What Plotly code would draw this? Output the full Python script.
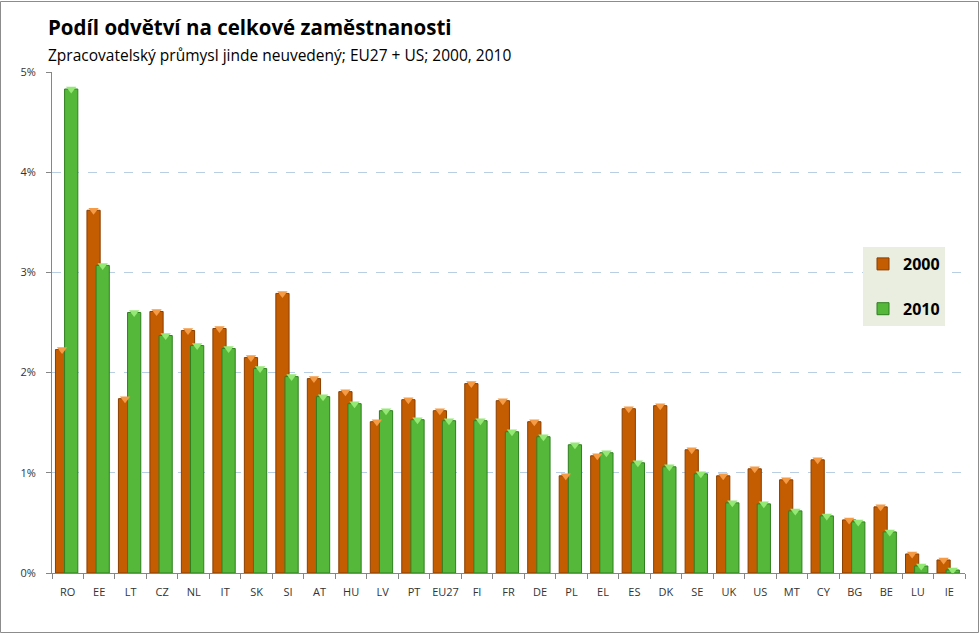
import plotly.graph_objects as go

categories = ["RO", "EE", "LT", "CZ", "NL", "IT", "SK", "SI", "AT", "HU", "LV", "PT", "EU27", "FI",
              "FR", "DE", "PL", "EL", "ES", "DK", "SE", "UK", "US", "MT", "CY", "BG", "BE", "LU", "IE"]
values_2000 = [2.23, 3.62, 1.74, 2.61, 2.42, 2.44, 2.15, 2.79, 1.94, 1.81, 1.51, 1.73, 1.62, 1.89,
               1.72, 1.51, 0.97, 1.17, 1.64, 1.67, 1.23, 0.97, 1.04, 0.93, 1.13, 0.53, 0.66, 0.19, 0.13]
values_2010 = [4.83, 3.07, 2.60, 2.37, 2.27, 2.24, 2.04, 1.96, 1.76, 1.69, 1.62, 1.53, 1.52, 1.52,
               1.41, 1.36, 1.28, 1.20, 1.10, 1.06, 0.99, 0.70, 0.69, 0.62, 0.57, 0.51, 0.41, 0.07, 0.03]
y_ticks = [0, 1, 2, 3, 4, 5]

title_text = "Podíl odvětví na celkové zaměstnanosti"
subtitle_text = "Zpracovatelský průmysl jinde neuvedený; EU27 + US; 2000, 2010"

BAR_W = 0.42
OFF_2000 = -0.39
OFF_2010 = -0.10

L, R, T, B = 52, 15, 72, 61
PW, PH = 980 - L - R, 634 - T - B

fig = go.Figure()
fig.add_trace(go.Bar(
    x=categories, y=values_2000, name="<b>2000</b>", width=BAR_W, offset=OFF_2000,
    marker=dict(color="#C45C02", line=dict(color="#8A3F00", width=1)),
    legendgroup="a"))
fig.add_trace(go.Bar(
    x=categories, y=values_2010, name="<b>2010</b>", width=BAR_W, offset=OFF_2010,
    marker=dict(color="#55B83A", line=dict(color="#2F7F1F", width=1)),
    legendgroup="b"))

idx = list(range(len(categories)))
fig.add_trace(go.Scatter(
    x=[i + OFF_2000 + BAR_W / 2 for i in idx], y=values_2000, mode="markers",
    marker=dict(symbol="triangle-down", size=9, color="#F59A45", line=dict(width=0)),
    xaxis="x2", showlegend=False, hoverinfo="skip", cliponaxis=False))
fig.add_trace(go.Scatter(
    x=[i + OFF_2010 + BAR_W / 2 for i in idx], y=values_2010, mode="markers",
    marker=dict(symbol="triangle-down", size=9, color="#94E874", line=dict(width=0)),
    xaxis="x2", showlegend=False, hoverinfo="skip", cliponaxis=False))


def px_x(px):
    return (px - L) / PW


def px_y(py):
    return 1 - (py - T) / PH


fig.update_layout(
    width=980, height=634,
    margin=dict(l=L, r=R, t=T, b=B),
    paper_bgcolor="white", plot_bgcolor="white",
    barmode="overlay",
    font=dict(family="Open Sans", color="#333333"),
    annotations=[
        dict(text="<b>" + title_text + "</b>", xref="paper", yref="paper",
             x=px_x(46), y=px_y(43), xanchor="left", yanchor="bottom", showarrow=False,
             font=dict(size=20.5, color="#000000")),
        dict(text=subtitle_text, xref="paper", yref="paper",
             x=px_x(46), y=px_y(68), xanchor="left", yanchor="bottom", showarrow=False,
             font=dict(size=15.5, color="#000000")),
    ],
    xaxis=dict(
        type="category", range=[-0.5, len(categories) - 0.5],
        tickson="boundaries", ticks="outside", ticklen=5, tickcolor="#868686",
        showline=True, linecolor="#868686", linewidth=1, tickangle=0,
        ticklabelstandoff=9,
        tickfont=dict(size=11, color="#333333"), showgrid=False),
    xaxis2=dict(overlaying="x", range=[-0.5, len(categories) - 0.5], visible=False),
    yaxis=dict(
        range=[0, 5], tickvals=y_ticks, ticktext=[f"{v}%" for v in y_ticks],
        ticks="outside", ticklen=5, tickcolor="#868686",
        showline=True, linecolor="#868686", linewidth=1,
        ticklabelstandoff=8,
        showgrid=True, gridcolor="#B9CDE5", griddash="dash", gridwidth=1,
        zeroline=False, tickfont=dict(size=11, color="#333333")),
    legend=dict(
        x=px_x(863), y=px_y(247), xanchor="left", yanchor="top",
        bgcolor="#EAEEE0", font=dict(size=16, color="#000000"),
        tracegroupgap=21, itemwidth=30),
    showlegend=True,
    shapes=[dict(type="rect", xref="paper", yref="paper",
                 x0=px_x(0.5), x1=px_x(978.5),
                 y0=px_y(632.5), y1=px_y(1.5),
                 line=dict(color="#8C8C8C", width=1), layer="below")],
)

fig.write_html("out.html")
